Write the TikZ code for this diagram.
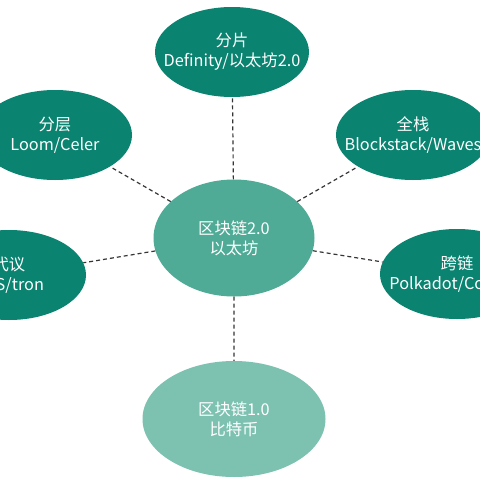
\documentclass[tikz,border=0pt]{standalone}
\usepackage{fontspec}
\setmainfont{Noto Sans CJK SC}
\usetikzlibrary{shapes.geometric, positioning}
\definecolor{tealdark}{HTML}{0A8370}
\definecolor{tealmid}{HTML}{4FAB96}
\definecolor{teallight}{HTML}{7DC1B1}
\definecolor{linkgray}{HTML}{353535}
\tikzset{
    x=1pt, y=-1pt, % pixel-like coordinates, origin top left
    every node/.style={ % text inside every ellipse
        font=\fontsize{16.3}{20}\selectfont,
        text=white,
        align=center
    },
    topic/.style={ % outer ellipses, size fixed by the minimum sizes
        ellipse,
        fill=tealdark,
        inner xsep=-30pt,
        inner ysep=-10pt,
        minimum width=154pt,
        minimum height=90pt
    },
    hub/.style={topic, fill=tealmid, minimum width=161pt, minimum height=117pt},
    base/.style={topic, fill=teallight, minimum width=183pt, minimum height=116pt},
    link/.style={ % dashed connectors
        draw=linkgray,
        line width=1.2pt,
        dash pattern=on 4pt off 3pt
    },
}

\begin{document}
\begin{tikzpicture}
    \clip (0,0) rectangle (480,480);
    \fill[white] (0,0) rectangle (480,480);
    \node[hub]   (eth)      at (234,238) {区块链2.0\\以太坊};
    \node[topic] (shard)    at (232,52)  {分片\\Definity/以太坊2.0};
    \node[topic] (layer)    at (55,135)  {分层\\Loom/Celer};
    \node[topic] (stack)    at (413,135) {全栈\\Blockstack/Waves};
    \node[topic] (deleg)    at (9,275)   {代议\\EOS/tron};
    \node[topic] (cross)    at (457,274) {跨链\\Polkadot/Cosmos};
    \node[base]  (btc)      at (234,419) {区块链1.0\\比特币};
    \draw[link] (eth) -- (shard)
                (eth) -- (layer)
                (eth) -- (stack)
                (eth) -- (deleg)
                (eth) -- (cross)
                (eth) -- (btc)
    ;
\end{tikzpicture}
\end{document}
